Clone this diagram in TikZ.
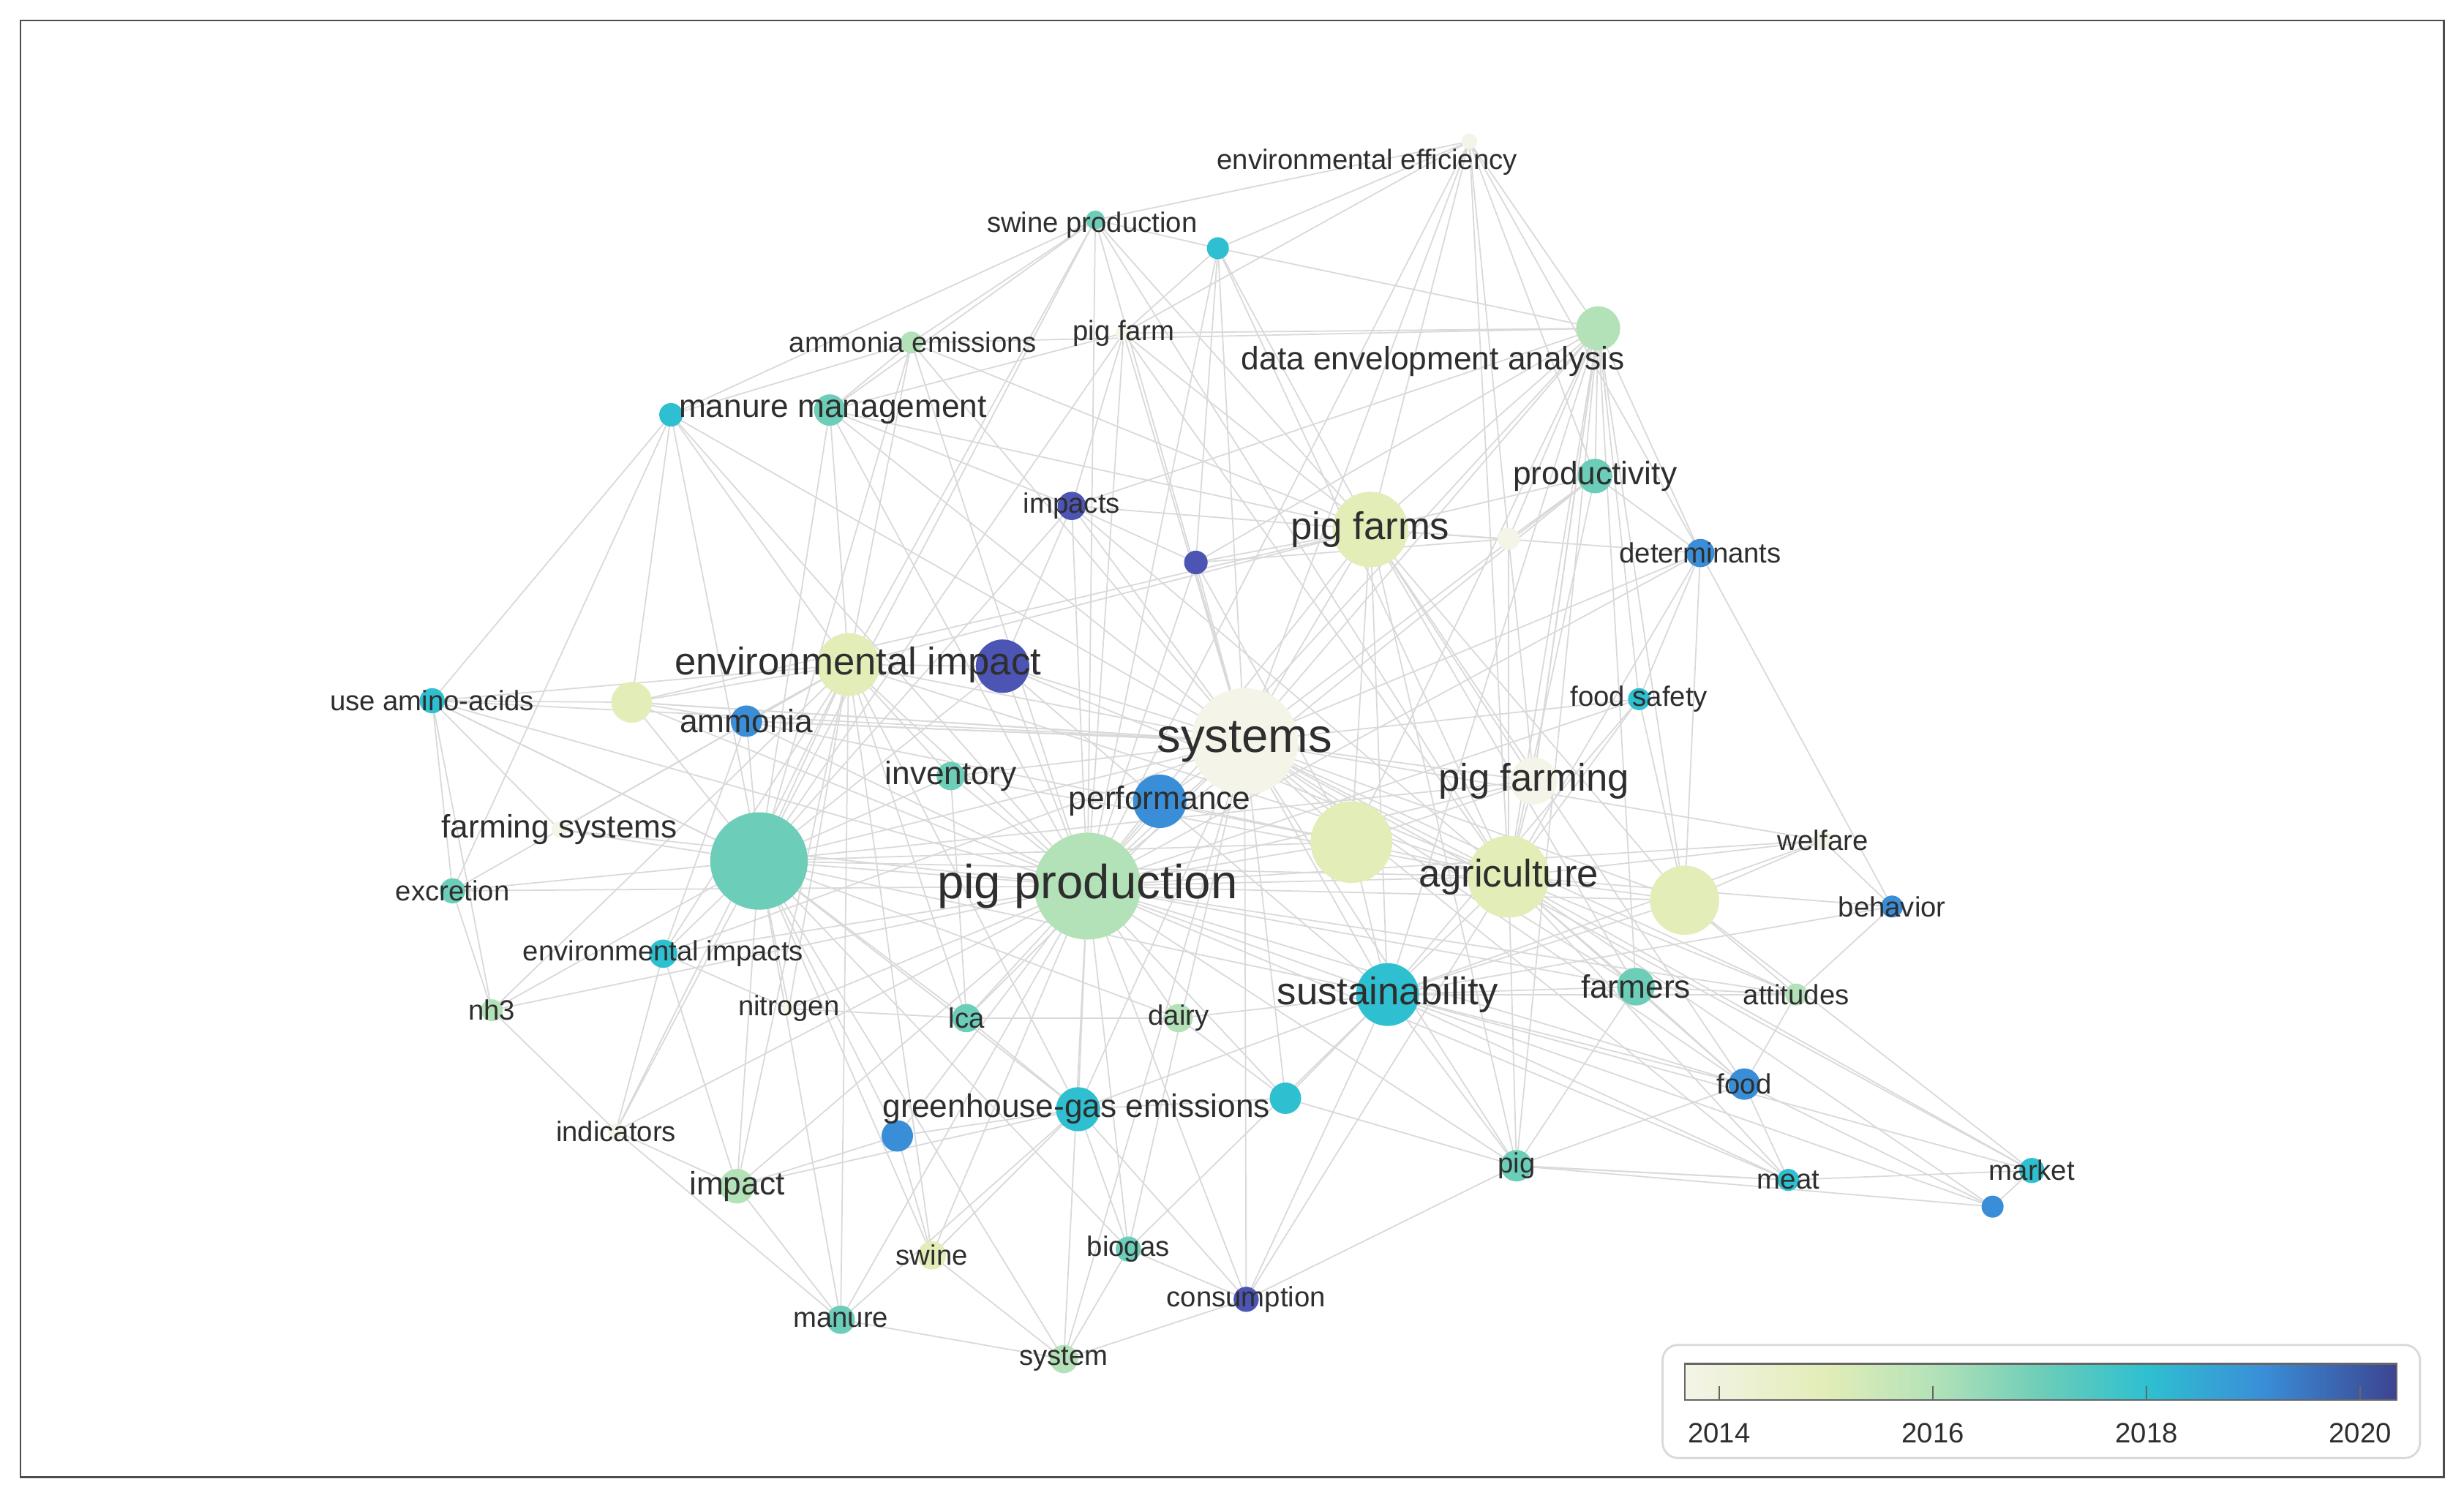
\documentclass[tikz,border=0pt]{standalone}
\usepackage{fontspec}
\setmainfont{Liberation Sans}
\begin{document}
\begin{tikzpicture}[x=0.02148cm,y=-0.02148cm,
 dot/.style={circle,inner sep=0pt,draw=none},
 ed/.style={draw=gray!30,line width=0.5pt},
 lab/.style={text=black!82,inner sep=0pt},
 XL/.style={font=\fontsize{18.6}{18}\selectfont},
 L/.style={font=\fontsize{15}{15}\selectfont},
 M/.style={font=\fontsize{12.6}{12}\selectfont},
 S/.style={font=\fontsize{10.9}{11}\selectfont}]
\definecolor{c0}{HTML}{F4F4E8}
\definecolor{c1}{HTML}{E2EDB8}
\definecolor{c2}{HTML}{B4E2B8}
\definecolor{c3}{HTML}{6CCDB8}
\definecolor{c4}{HTML}{2EC0D0}
\definecolor{c5}{HTML}{3A8ED8}
\definecolor{c6}{HTML}{4C55B4}
\useasboundingbox (0,0) rectangle (1568,953);
\fill[white] (0,0) rectangle (1568,953);
\draw[black!70,line width=0.8pt] (13,13) rectangle (1555,940);
% node positions
\foreach \n/\x/\y in {ee/935/90,sp/697/140,sptwo/775/158,ae/580/218,pf/715/212,dea/1017/209,mm/528/261,mmtwo/427/264,imps/682/322,pu/761/358,pfs/872/337,prod/1015/303,det/1082/352,wone/960/343,uaa/275/446,yg/402/447,ei/540/423,eip/638/424,amm/475/459,fsf/1043/445,sys/792/472,inv/605/494,perf/738/510,pfg/976/497,fsys/356/528,bt/483/548,pp/692/564,ly/860/536,agr/960/558,lytwo/1072/573,wel/1160/535,beh/1204/577,exc/288/567,eis/422/607,nh/313/643,nit/502/642,lca/615/648,dairy/750/648,sus/883/633,farm/1041/628,att/1143/633,food/1110/690,cy/818/699,ghg/686/706,bl/571/723,ind/392/720,imp/469/755,pig/965/742,meat/1138/751,mkt/1293/745,mkb/1268/768,sw/593/799,bio/718/795,cons/793/827,man/535/840,sysm/677/865}
 {\coordinate (\n) at (\x,\y);}
% edges
\foreach \a in {ee,sp,sptwo,ae,pf,dea,mm,mmtwo,imps,pu,pfs,prod,det,uaa,yg,ei,eip,amm,fsf,sys,inv,perf,pfg,fsys,bt,ly,agr,lytwo,wel,exc,eis,nh,nit,lca,dairy,sus,farm,att,food,cy,ghg,bl,ind,imp,pig,meat,sw,bio,cons,man,sysm}
 {\draw[ed] (\a) -- (pp);}
\foreach \a in {ee,sp,sptwo,ae,pf,dea,mm,mmtwo,imps,pu,pfs,prod,det,uaa,yg,ei,eip,amm,fsf,inv,perf,pfg,bt,ly,agr,lytwo,wel,eis,lca,sus,farm,att,food,cy,ghg,pig,meat,mkt,bio,cons,sysm}
 {\draw[ed] (\a) -- (sys);}
\foreach \a in {sp,ae,pf,mm,mmtwo,imps,uaa,yg,ei,eip,amm,inv,fsys,exc,eis,nh,nit,lca,ghg,bl,ind,imp,sw,bio,man,sysm,sus,agr,dairy}
 {\draw[ed] (\a) -- (bt);}
\foreach \a in {ee,sp,sptwo,pf,dea,prod,det,wone,fsf,pfg,ly,lytwo,wel,beh,farm,att,food,pig,meat,mkt,mkb,cons,sus,imps}
 {\draw[ed] (\a) -- (agr);}
\foreach \a in {ee,sp,sptwo,pf,dea,prod,det,wone,pfg,ly,lytwo,imps,pu,mm,ae,ei,sus,farm,food,pig}
 {\draw[ed] (\a) -- (pfs);}
\foreach \a in {ee,sptwo,pf,prod,det,wone,pfg,ly,lytwo,farm,sus,pig,fsf,imps,pu,ae}
 {\draw[ed] (\a) -- (dea);}
\foreach \a in {mmtwo,mm,ae,sp,uaa,yg,amm,exc,nh,eis,ind,imp,lca,inv,eip,ghg,fsys,nit,man,sw}
 {\draw[ed] (\a) -- (ei);}
\foreach \a in {ly,lytwo,farm,att,food,meat,pig,cy,dairy,ghg,bio,cons,mkt,mkb,beh,wel,fsf,perf}
 {\draw[ed] (\a) -- (sus);}
\foreach \a/\b in {ee/sp,ee/sptwo,ee/pf,ee/prod,ee/det,ee/wone,sp/ae,sp/mmtwo,sp/mm,sp/sptwo,sptwo/pf,ae/mmtwo,ae/mm,mmtwo/uaa,mmtwo/yg,mmtwo/exc,uaa/exc,uaa/nh,uaa/fsys,exc/nh,nh/ind,ind/imp,ind/man,imp/man,man/sysm,sysm/sw,sysm/bio,sysm/cons,cons/pig,cons/bio,pig/meat,meat/food,meat/mkt,mkt/mkb,mkb/food,food/att,att/beh,beh/wel,wel/lytwo,beh/det,det/prod,prod/wone,det/fsf,fsf/lytwo,lytwo/att,farm/att,farm/food,ghg/bl,ghg/cy,ghg/lca,bl/sw,bl/imp,perf/eip,perf/ly,eip/imps,imps/pu,pu/ly,ly/pfg,pfg/wone,eis/nit,eis/ind,nit/lca,lca/dairy,dairy/cy,cy/pig,bio/ghg,inv/lca,yg/amm,amm/eis,imp/eis,mkb/pig,meat/pig,uaa/yg,mm/imps,pf/imps,pf/mm,sptwo/pu,wone/pu,cons/ghg,imp/ghg,man/ghg,sw/ghg,det/lytwo,dea/pfg,lytwo/mkt,pig/food,pig/farm,amm/sys,yg/sys,ei/agr,eip/agr,bt/ly,bt/pfg,amm/ly,inv/agr,yg/pfs,uaa/bt}
 {\draw[ed] (\a) -- (\b);}
% dots
\foreach \n/\d/\c in {ee/10/c0,sp/12/c3,sptwo/14/c4,ae/14/c2,pf/10/c0,dea/28/c2,mm/20/c3,mmtwo/15/c4,imps/18/c6,pu/15/c6,pfs/48/c1,prod/22/c3,det/18/c5,wone/14/c0,uaa/16/c4,yg/26/c1,ei/40/c1,eip/34/c6,amm/20/c5,fsf/14/c4,sys/68/c0,inv/18/c3,perf/34/c5,pfg/30/c0,fsys/10/c0,bt/62/c3,pp/68/c2,ly/52/c1,agr/52/c1,lytwo/44/c1,wel/12/c0,beh/14/c5,exc/16/c3,eis/18/c4,nh/14/c2,nit/8/c0,lca/18/c3,dairy/18/c2,sus/40/c4,farm/24/c3,att/14/c2,food/20/c5,cy/20/c4,ghg/28/c4,bl/20/c5,ind/10/c0,imp/22/c2,pig/20/c3,meat/14/c4,mkt/16/c4,mkb/14/c5,sw/18/c1,bio/16/c3,cons/16/c6,man/18/c3,sysm/18/c2}
 {\node[dot,fill=\c,minimum size=\d*0.02148cm] (d\n) at (\n) {};}
% labels
\node[lab,S] (l1) at (870,103) {environmental efficiency};
\node[lab,S] (l2) at (695,143) {swine production};
\node[lab,S] (l3) at (581,218) {ammonia emissions};
\node[lab,S] (l4) at (715,212) {pig farm};
\node[lab,M] (l5) at (912,230) {data envelopment analysis};
\node[lab,M] (l6) at (530,261) {manure management};
\node[lab,S] (l7) at (682,322) {impacts};
\node[lab,L] (l8) at (872,337) {pig farms};
\node[lab,M] (l9) at (1015,303) {productivity};
\node[lab,S] (l10) at (1082,352) {determinants};
\node[lab,S] (l11) at (275,446) {use amino-acids};
\node[lab,L] (l12) at (546,423) {environmental impact};
\node[lab,M] (l13) at (475,459) {ammonia};
\node[lab,S] (l14) at (1043,445) {food safety};
\node[lab,XL] (l15) at (792,472) {systems};
\node[lab,M] (l16) at (605,494) {inventory};
\node[lab,M] (l17) at (738,510) {performance};
\node[lab,L] (l18) at (976,497) {pig farming};
\node[lab,M] (l19) at (356,528) {farming systems};
\node[lab,XL] (l20) at (692,564) {pig production};
\node[lab,L] (l21) at (960,558) {agriculture};
\node[lab,S] (l22) at (1160,535) {welfare};
\node[lab,S] (l23) at (1204,577) {behavior};
\node[lab,S] (l24) at (288,567) {excretion};
\node[lab,S] (l25) at (422,607) {environmental impacts};
\node[lab,S] (l26) at (313,643) {nh3};
\node[lab,S] (l27) at (502,642) {nitrogen};
\node[lab,S] (l28) at (615,648) {lca};
\node[lab,S] (l29) at (750,648) {dairy};
\node[lab,L] (l30) at (883,633) {sustainability};
\node[lab,M] (l31) at (1041,628) {farmers};
\node[lab,S] (l32) at (1143,633) {attitudes};
\node[lab,S] (l33) at (1110,690) {food};
\node[lab,M] (l34) at (685,706) {greenhouse-gas emissions};
\node[lab,S] (l35) at (392,720) {indicators};
\node[lab,M] (l36) at (469,755) {impact};
\node[lab,S] (l37) at (965,742) {pig};
\node[lab,S] (l38) at (1138,751) {meat};
\node[lab,S] (l39) at (1293,745) {market};
\node[lab,S] (l40) at (593,799) {swine};
\node[lab,S] (l41) at (718,795) {biogas};
\node[lab,S] (l42) at (793,827) {consumption};
\node[lab,S] (l43) at (535,840) {manure};
\node[lab,S] (l44) at (677,865) {system};
% legend
\node[draw=black!15,rounded corners=6pt,minimum width=482*0.02148cm,minimum height=72*0.02148cm,inner sep=0pt,line width=0.8pt] (leg) at (1299,892) {};
\shade[left color=c0,right color=c1,draw=none] (1072,868) rectangle (1162,891);
\shade[left color=c1,right color=c2,draw=none] (1162,868) rectangle (1230,891);
\shade[left color=c2,right color=c3,draw=none] (1230,868) rectangle (1300,891);
\shade[left color=c3,right color=c4,draw=none] (1300,868) rectangle (1366,891);
\shade[left color=c4,right color=c5,draw=none] (1366,868) rectangle (1440,891);
\shade[left color=c5,right color=c6!80!black,draw=none] (1440,868) rectangle (1525,891);
\draw[black!60,line width=0.6pt] (1072,868) rectangle (1525,891);
\foreach \x/\t in {1094/2014,1230/2016,1366/2018,1502/2020}{
 \draw[black!60,line width=0.6pt] (\x,882) -- (\x,891);
 \node[lab,S] (t\t) at (\x,912) {\t};}
\end{tikzpicture}
\end{document}
